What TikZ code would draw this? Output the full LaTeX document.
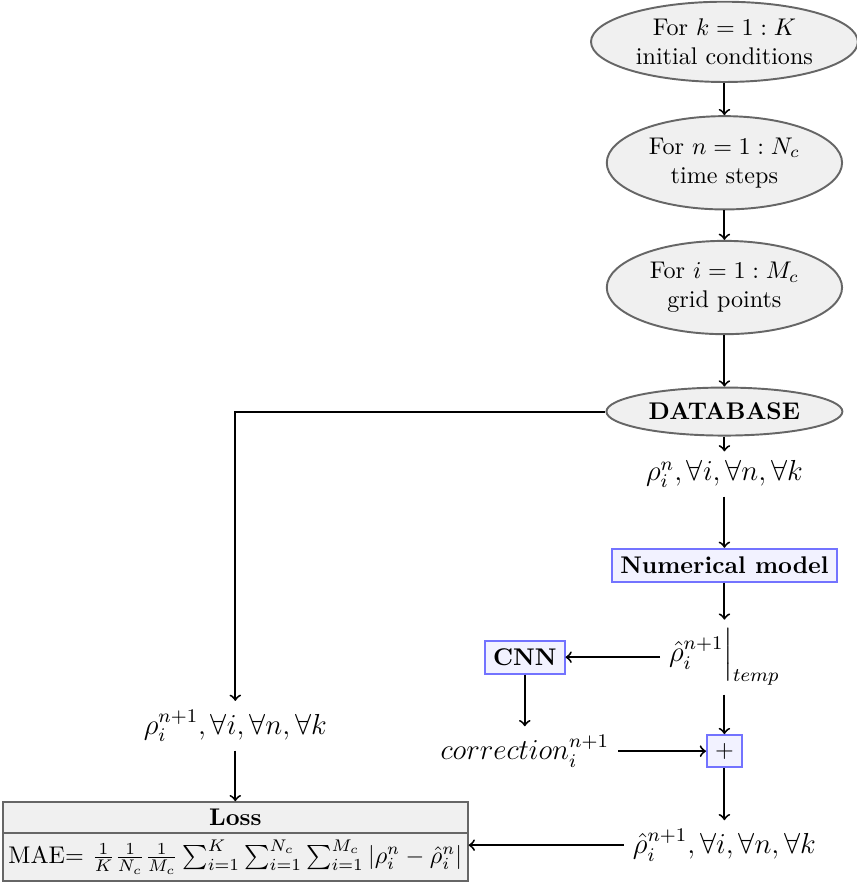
\documentclass[tikz,border=0pt]{standalone}
\usepackage{amsmath}
\usepackage{amssymb}
\usetikzlibrary{arrows.meta, positioning, shapes.geometric, shapes.multipart, calc}

\begin{document}
\begin{tikzpicture}[
  >=to, thick,
  loopnode/.style = {draw=black!60, fill=black!6, ellipse, inner sep=0pt, align=center},
  block/.style    = {draw=blue!55, fill=blue!5, rectangle},
  lossbox/.style  = {draw=black!60, fill=black!6, rectangle split, rectangle split parts=2,
                     inner xsep=2.3pt, inner ysep=2.5pt},
]
  \useasboundingbox (0,0) rectangle (12.48,-12.93);

  % Nested loops over the data
  \node[loopnode, minimum width=3.89cm, minimum height=1.17cm] (ic) at (10.56,-0.61) {For $k=1:K$\\initial conditions};
  \node[loopnode, minimum width=3.43cm, minimum height=1.36cm, below=0.47cm of ic] (ts) {For $n=1:N_c$\\time steps};
  \node[loopnode, minimum width=3.43cm, minimum height=1.36cm, below=0.43cm of ts] (gp) {For $i=1:M_c$\\grid points};
  \node[loopnode, minimum width=3.44cm, minimum height=0.70cm, below=0.75cm of gp] (db) {\textbf{DATABASE}};

  % Correction chain
  \node[font=\large]  (rho)  at (10.56,-6.91)  {$\rho_i^n, \forall i, \forall n, \forall k$};
  \node[block]        (num)  at (10.56,-8.24)  {\textbf{Numerical model}};
  \node[font=\large]  (rtmp) at (10.56,-9.58)  {$\hat{\rho}_i^{n+1}\Big|_{temp}$};
  \node[block]        (cnn)  at (7.65,-9.58)   {\textbf{CNN}};
  \node[font=\large]  (corr) at (7.65,-10.95)  {$correction_i^{n+1}$};
  \node[block]        (plus) at (10.56,-10.95) {$+$};
  \node[font=\large]  (rhat) at (10.56,-12.32) {$\hat{\rho}_i^{n+1}, \forall i, \forall n, \forall k$};

  % Reference and loss
  \node[font=\large]  (rref) at (3.43,-10.58)  {$\rho_i^{n+1}, \forall i, \forall n, \forall k$};
  \node[lossbox, anchor=north] (loss) at (3.43,-11.68)
    {\textbf{Loss}\nodepart{two}MAE= $\frac{1}{K}\frac{1}{N_c}\frac{1}{M_c}\sum_{i=1}^{K}\sum_{i=1}^{N_c}\sum_{i=1}^{M_c}|\rho_i^n-\hat{\rho}_i^n|$};

  \draw[->] (ic)   -- (ts);
  \draw[->] (ts)   -- (gp);
  \draw[->] (gp)   -- (db);
  \draw[->] (db)   -- (rho);
  \draw[->] (rho)  -- (num);
  \draw[->] (num)  -- (rtmp);
  \draw[->] (rtmp) -- (cnn);
  \draw[->] (cnn)  -- (corr);
  \draw[->] (rtmp) -- (plus);
  \draw[->] (corr) -- (plus);
  \draw[->] (plus) -- (rhat);
  \draw[->] (rhat.west) -- (rhat.west -| loss.east);

  % Target values go straight to the loss
  \draw[->] (db) -| (rref);
  \draw[->] (rref) -- (loss);
\end{tikzpicture}
\end{document}
